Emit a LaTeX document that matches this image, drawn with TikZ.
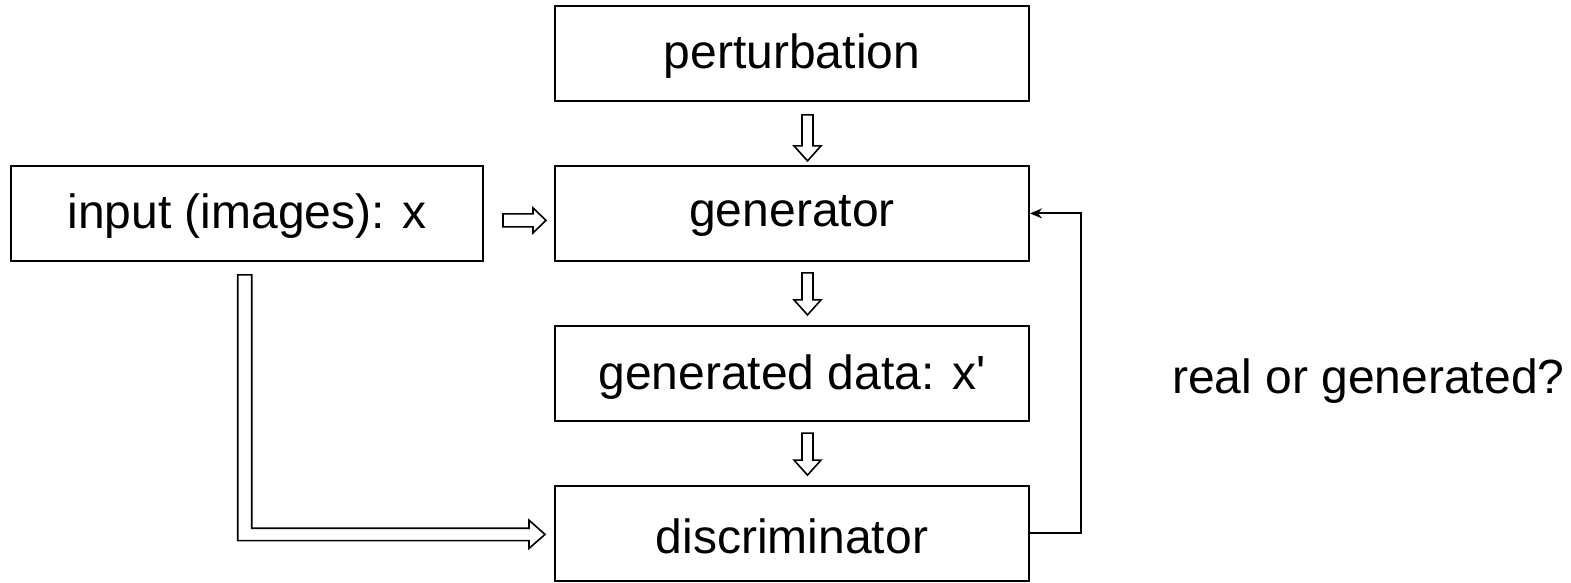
\documentclass[tikz,border=0pt]{standalone}
\usepackage{fontspec}
\setmainfont{Liberation Sans}
\usetikzlibrary{calc,arrows.meta}
\newcommand\lowered[1]{\raisebox{0pt}[\dimexpr\height+6pt\relax]{#1}}
\begin{document}
\begin{tikzpicture}[x=1pt,y=-1pt,
  box/.style={draw,line width=2pt,rectangle,minimum width=474pt,minimum height=95pt,inner sep=0pt,font=\fontsize{48}{58}\selectfont},
  blk/.style={draw,line width=1.6pt,fill=white,line join=miter},
  downblock/.pic={\path[blk] (-5.5,0) -- (5.5,0) -- (5.5,#1-15) -- (13.5,#1-15) -- (0,#1) -- (-13.5,#1-15) -- (-5.5,#1-15) -- cycle;},
  rightblock/.pic={\path[blk] (0,-6.5) -- (30,-6.5) -- (30,-12.5) -- (43,0) -- (30,12.5) -- (30,6.5) -- (0,6.5) -- cycle;}
]
\useasboundingbox (0,0) rectangle (1571,583);
\node[box] (pert) at (792,53.4) {\lowered{perturbation}};
\node[box] (gen) at (792,213.4) {\lowered{generator}};
\node[box,minimum width=472pt] (inp) at (247,213.4) {\lowered{input (images): x}};
\node[box] (gdata) at (792,373.6) {\lowered{generated data: x\textquotesingle}};
\node[box] (disc) at (792,533.4) {\lowered{discriminator}};
\node[font=\fontsize{48}{58}\selectfont,anchor=west,inner sep=0pt] (q) at (1172,381) {real or generated?};
\pic at ($(pert.south)+(15.5,13)$) {downblock=46};
\pic at ($(gen.south)+(15.5,11)$) {downblock=42};
\pic at ($(gdata.south)+(15.5,11)$) {downblock=42};
\pic at ($(inp.east)+(19,7)$) {rightblock};
% L-shaped block arrow from input to discriminator
\coordinate (ltop) at ($(inp.south)+(-2.3,13)$);
\coordinate (ltip) at ($(disc.west)+(-9,1)$);
\path[blk] ($(ltop)+(-7,0)$) -- ($(ltop)+(7,0)$) |- ($(ltip)+(-16,-6.2)$) -- ++(0,-8) -- (ltip) -- ($(ltip)+(-16,14)$) -- ++(0,-7.8) -| ($(ltop)+(-7,0)$) -- cycle;
% feedback
\draw[line width=2pt,-{Stealth[length=12pt,width=10pt]}] (disc.east) -- ++(51,0) |- (gen.east);
\end{tikzpicture}
\end{document}
